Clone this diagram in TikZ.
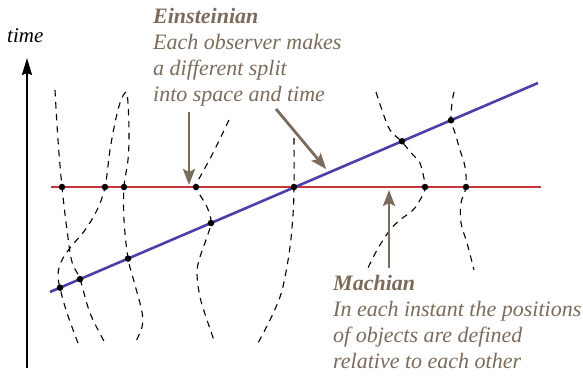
\documentclass[tikz,border=0pt]{standalone}
\usepackage{fontspec}
\setmainfont{Liberation Serif}
\usepackage{tikz}
\usetikzlibrary{arrows.meta, positioning, calc}
\definecolor{NoteBrown}{HTML}{7B6B5B}
\definecolor{SpaceRed}{HTML}{C4343A}
\definecolor{SliceBlue}{HTML}{4B3FA9}

\begin{document}
\begin{tikzpicture}[x=1pt, y=-1pt, >={Stealth[length=16pt, width=12pt, inset=3pt]}, every node/.style={inner sep=0pt}]
    \tikzstyle{note} = [NoteBrown, font=\fontsize{22}{26}\selectfont\itshape, align=left, anchor=base west]
    \tikzstyle{world} = [black, line width=1.1pt, dash pattern=on 6.5pt off 5.5pt]
    \tikzstyle{pointer} = [draw, ->, NoteBrown, line width=2.8pt, shorten >=1pt]
    \tikzstyle{event} = [circle, fill=black, minimum size=6.5pt]
    \useasboundingbox (0,0) rectangle (583,377);

    % time axis
    \node [font=\fontsize{21}{25}\selectfont\itshape, anchor=base west] (time) at (7,43) {time};
    \coordinate (t0) at (27,368);
    \coordinate (t1) at (27,58);
    \draw [-{Stealth[length=17pt, width=10pt, inset=2pt]}, line width=2.2pt] (t0) -- (t1);

    % worldlines
    \draw [world] plot [smooth, tension=0.6] coordinates {(55,90) (58,140) (62,187) (67,230) (72,262) (80,279) (90,313) (105,343)};
    \draw [world] plot [smooth, tension=0.6] coordinates {(78,343) (67,313) (60,288) (58,275) (61,262) (70,248) (85,230) (97,210) (105,187) (110,150) (115,123) (120,103) (126,92) (128,103) (129,133) (128,160) (124,187) (124,220) (128,258) (135,285) (142,312) (142,327) (135,343)};
    \draw [world] plot [smooth, tension=0.6] coordinates {(229,120) (213,153) (200,177) (196,187) (207,207) (211,222) (207,237) (200,257) (197,273) (200,297) (207,320) (215,343)};
    \draw [world] plot [smooth, tension=0.6] coordinates {(294,138) (294,187) (293,215) (290,247) (285,277) (280,297) (270,320) (258,343)};
    \draw [world] plot [smooth, tension=0.6] coordinates {(376,92) (383,113) (390,130) (402,142) (413,155) (420,163) (425,187) (420,200) (413,210) (400,220) (390,230) (377,250) (367,270)};
    \draw [world] plot [smooth, tension=0.6] coordinates {(454,92) (452,103) (451,120) (455,133) (460,150) (465,167) (466,187) (461,203) (461,223) (467,243) (474,270)};

    % simultaneity slices
    \coordinate (r0) at (51,187);
    \coordinate (r1) at (541,187);
    \coordinate (b0) at (50,292);
    \coordinate (b1) at (538,83);
    \draw [SpaceRed, line width=2.6pt] (r0) -- (r1);
    \draw [SliceBlue, line width=2.6pt] (b0) -- (b1);

    % events
    \foreach \x in {62,105,124,196,294,425,466}
        \node [event] at (\x,187) {};
    \foreach \x in {60,80,128,211,402,451}
        \node [event] at (\x,{292-0.4283*(\x-50)}) {};

    % notes (anchored at the baseline of their last line)
    \node [note] (ein) at (153,102) {\textbf{Einsteinian}\\Each observer makes\\a different split\\into space and time};
    \node [note] (mach) at (333,368) {\textbf{Machian}\\In each instant the positions\\of objects are defined\\relative to each other};

    % pointers
    \coordinate (e0) at (189,112);
    \coordinate (e1) at (189,186);
    \coordinate (d0) at (276,109);
    \coordinate (d1) at (327,170);
    \coordinate (m0) at (389,268);
    \coordinate (m1) at (389,189);
    \path [pointer] (e0) -- (e1);
    \path [pointer] (d0) -- (d1);
    \path [pointer] (m0) -- (m1);
\end{tikzpicture}
\end{document}
